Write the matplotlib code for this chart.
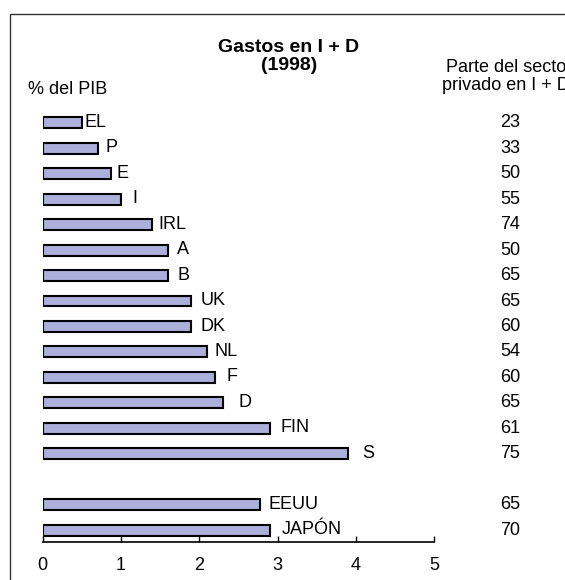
#!/usr/bin/env python3
"""Gastos en I + D (1998): % del PIB por pais, con la parte del sector privado."""

import matplotlib

matplotlib.use("Agg")
import matplotlib.pyplot as plt
from matplotlib.patches import Rectangle

plt.rcParams["font.family"] = ["Liberation Sans", "DejaVu Sans"]

# data
countries = ["EL", "P", "E", "I", "IRL", "A", "B", "UK", "DK", "NL", "F", "D", "FIN", "S", "EEUU", "JAPÓN"]
gasto_pib = [0.5, 0.7, 0.87, 1.0, 1.4, 1.6, 1.6, 1.9, 1.9, 2.1, 2.2, 2.3, 2.9, 3.9, 2.77, 2.9]
parte_privado = [23, 33, 50, 55, 74, 50, 65, 65, 60, 54, 60, 65, 61, 75, 65, 70]
row_pos = [0, 1, 2, 3, 4, 5, 6, 7, 8, 9, 10, 11, 12, 13, 15, 16]
label_pad = [2, 6, 4, 8, 4.5, 6.5, 7, 6.5, 6.5, 5.5, 8.5, 11, 8, 10.5, 6.5, 8.5]  # points
x_ticks = [0, 1, 2, 3, 4, 5]

W, H = 565, 580
BAR_COLOR = "#ABAFD9"
FS = 13


def fx(px):
    return px / W


def fy(py):
    return 1 - py / H


fig = plt.figure(figsize=(W / 100, H / 100), dpi=100)
ax = fig.add_axes([fx(42.7), fy(542), fx(434.2) - fx(42.7), (542 - 100) / H])

ax.barh(row_pos, gasto_pib, height=0.43, color=BAR_COLOR, edgecolor="black", linewidth=1.5)
ax.set_xlim(0, 5)
ax.set_ylim(16.47, -0.9)

for pos, val, name, pad, share in zip(row_pos, gasto_pib, countries, label_pad, parte_privado):
    ax.annotate(name, xy=(val, pos), xytext=(pad, 0.3), textcoords="offset points",
                ha="left", va="center", fontsize=FS, annotation_clip=False)
    ax.text(5.97, pos, str(share), ha="center", va="center", fontsize=FS, clip_on=False)

for side in ["left", "right", "top"]:
    ax.spines[side].set_visible(False)
ax.spines["bottom"].set_linewidth(1.2)
ax.set_yticks([])
ax.set_xticks(x_ticks)
ax.set_xticklabels([str(t) for t in x_ticks], fontsize=FS)
ax.tick_params(axis="x", direction="in", length=4, width=1, pad=11)

fig.text(fx(289), fy(47), "Gastos en I + D", ha="center", va="center", fontsize=FS + 1, fontweight="bold")
fig.text(fx(289), fy(66), "(1998)", ha="center", va="center", fontsize=FS + 1, fontweight="bold")
fig.text(fx(28), fy(89), "% del PIB", ha="left", va="center", fontsize=FS)
fig.text(fx(446), fy(67), "Parte del sector", ha="left", va="center", fontsize=FS)
fig.text(fx(442), fy(86), "privado en I + D", ha="left", va="center", fontsize=FS)

frame = Rectangle((fx(10), -0.1), 1.2, fy(14) + 0.1, transform=fig.transFigure,
                  fill=False, edgecolor="#333333", linewidth=1.0)
fig.add_artist(frame)

fig.savefig("out.png", dpi=100)
plt.close(fig)
